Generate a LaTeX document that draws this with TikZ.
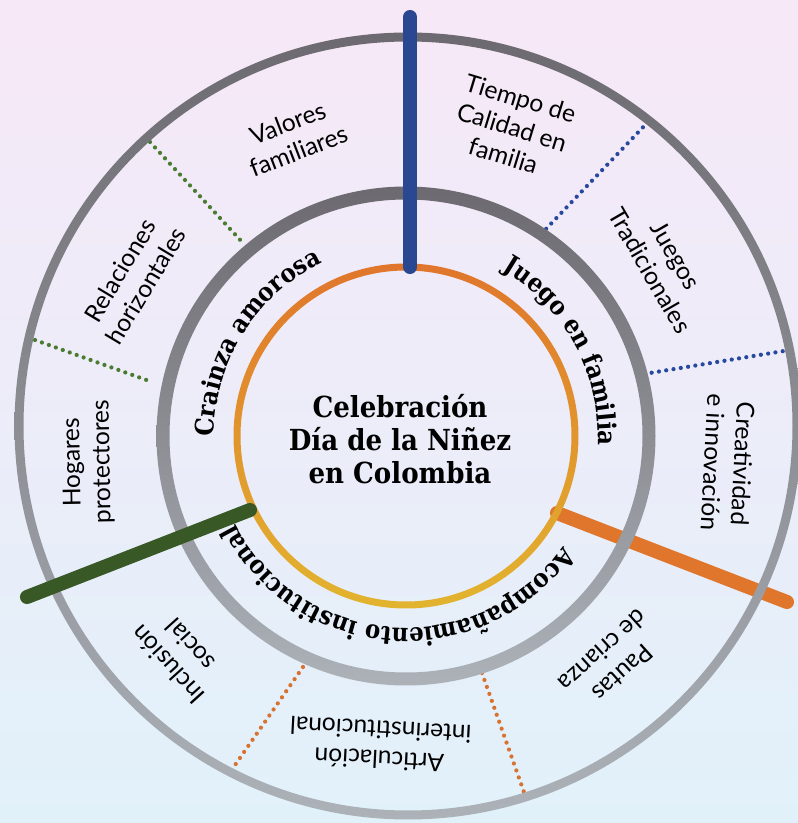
\documentclass[tikz,border=0pt]{standalone}
\usepackage{fontspec}
\setmainfont{Lato}
\newfontfamily\slabfont{DejaVu Serif Condensed}
\usepackage{tikz}
\usetikzlibrary{decorations.text}
\usepackage{xcolor}

\definecolor{fondoarriba}{RGB}{247,232,247}
\definecolor{fondomedio}{RGB}{238,240,252}
\definecolor{fondoabajo}{RGB}{225,241,250}
\definecolor{grisoscuro}{RGB}{108,106,112}
\definecolor{grisclaro}{RGB}{172,178,184}
\definecolor{naranja}{RGB}{224,118,44}
\definecolor{amarillo}{RGB}{226,180,46}
\definecolor{azul}{RGB}{42,72,145}
\definecolor{verde}{RGB}{56,88,38}
\definecolor{verdep}{RGB}{74,124,48}
\definecolor{azulp}{RGB}{38,72,158}
\definecolor{naranjap}{RGB}{216,114,48}

\tikzset{
	eje/.style={line width=8pt,line cap=round},
	punteado/.style={line width=2.4pt,line cap=round,dash pattern=on 0pt off 4.2pt},
	etiqueta/.style={align=center,inner sep=0pt,font=\fontsize{14}{17}\selectfont},
	arcotexto/.style={decorate,decoration={text along path,text align=center,
		text={|\slabfont\bfseries\fontsize{14.5}{14.5}\selectfont|#1}}}
}

\begin{document}
\begin{tikzpicture}[x=0.02cm,y=0.02cm]
	\useasboundingbox (0,0) rectangle (798,823);
	\shade[top color=fondoarriba,middle color=fondomedio,bottom color=fondoabajo] (0,0) rectangle (798,823);

	\coordinate (cin) at (406,387);
	\coordinate (cout) at (408,397);

	\coordinate (vp1a) at (150,681);	\coordinate (vp1b) at (243,580);
	\coordinate (vp2a) at (35,483);		\coordinate (vp2b) at (152,441);
	\coordinate (ap1a) at (648,701);	\coordinate (ap1b) at (545,593);
	\coordinate (ap2a) at (790,473);	\coordinate (ap2b) at (650,450);
	\coordinate (np1a) at (303,156);	\coordinate (np1b) at (233,55);
	\coordinate (np2a) at (482,150);	\coordinate (np2b) at (525,28);

	\draw[punteado,verdep] (vp1a) -- (vp1b);
	\draw[punteado,verdep] (vp2a) -- (vp2b);
	\draw[punteado,azulp] (ap1a) -- (ap1b);
	\draw[punteado,azulp] (ap2a) -- (ap2b);
	\draw[punteado,naranjap] (np1a) -- (np1b);
	\draw[punteado,naranjap] (np2a) -- (np2b);

	\coordinate (azulA) at (410,806);	\coordinate (azulB) at (410,556);
	\coordinate (verdeA) at (27,226);	\coordinate (verdeB) at (250,313);
	\coordinate (naranjaA) at (557,310);	\coordinate (naranjaB) at (787,221);

	\draw[eje,naranja] (naranjaA) -- (naranjaB);

	\shade[top color=grisoscuro,bottom color=grisclaro,even odd rule] (cout) circle[radius=393.5] (cout) circle[radius=384.5];
	\shade[top color=grisoscuro,bottom color=grisclaro,even odd rule] (cin) circle[radius=249.5] (cin) circle[radius=236.5];
	\shade[top color=naranja,bottom color=amarillo,even odd rule] (cin) circle[radius=172.5] (cin) circle[radius=165.5];

	\draw[eje,azul] (azulA) -- (azulB);
	\draw[eje,verde] (verdeA) -- (verdeB);

	\node[align=center,inner sep=0pt,font=\slabfont\bfseries\fontsize{16.5}{19}\selectfont] (titulo) at (400,384) {Celebración\\Día de la Niñez\\en Colombia};

	\path[arcotexto={Crainza amorosa}] (cin) ++(215:192) arc[start angle=215,end angle=81,radius=192];
	\path[arcotexto={Juego en familia}] (cin) ++(95:192) arc[start angle=95,end angle=-38,radius=192];
	\path[arcotexto={Acompañamiento institucional}] (cin) ++(-20:192) arc[start angle=-20,end angle=-168,radius=192];

	\node[etiqueta,rotate=21] (valores) at (293,686) {Valores\\familiares};
	\node[etiqueta,rotate=-17] (tiempo) at (512,696) {Tiempo de\\Calidad en\\familia};
	\node[etiqueta,rotate=-60] (juegos) at (663,560) {Juegos\\Tradicionales};
	\node[etiqueta,rotate=-93] (creatividad) at (728,360) {Creatividad\\e innovación};
	\node[etiqueta,rotate=-138] (pautas) at (613,161) {Pautas\\de crianza};
	\node[etiqueta,rotate=177] (articulacion) at (380,78) {Articulación\\interinstitucional};
	\node[etiqueta,rotate=132] (inclusion) at (179,168) {Inclusión\\social};
	\node[etiqueta,rotate=91] (hogares) at (88,361) {Hogares\\protectores};
	\node[etiqueta,rotate=59] (relaciones) at (133,545) {Relaciones\\horizontales};
\end{tikzpicture}
\end{document}
